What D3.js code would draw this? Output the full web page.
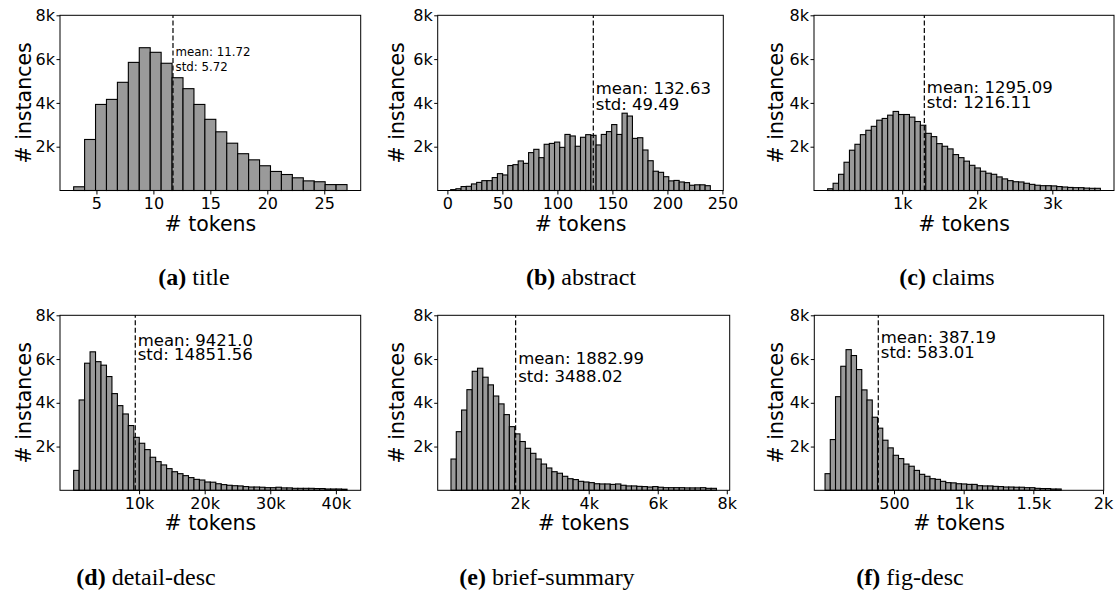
<!DOCTYPE html>
<html>
<head>
<meta charset="utf-8">
<script src="https://cdn.jsdelivr.net/npm/d3@7"></script>
<style>
  body { margin: 0; background: #fff; }
  svg { display: block; }
</style>
</head>
<body>
<svg id="chart" width="1117" height="597"></svg>
<script>
// Histogram counts per field; bins are spread evenly over each [min, max] range.
const titleCounts = [170, 2330, 3930, 4160, 4940, 5850, 6520, 6310, 5810, 5150, 4650, 3930, 3250, 2680, 2160, 1680, 1400, 1130, 870, 730, 580, 440, 400, 270, 270];
const titleRange = [3, 27];

const abstractCounts = [40, 80, 180, 190, 300, 370, 450, 450, 590, 770, 710, 1140, 1180, 1350, 1240, 1730, 1880, 1500, 2110, 2150, 2210, 1970, 2560, 2490, 2020, 2430, 2550, 2520, 2080, 2560, 2690, 3010, 2560, 3530, 3400, 2380, 2410, 1850, 1360, 880, 830, 630, 440, 460, 390, 360, 240, 260, 260, 220];
const abstractRange = [3, 239];

const claimsCounts = [80, 330, 740, 1290, 1840, 2110, 2550, 2750, 2930, 3210, 3290, 3440, 3610, 3470, 3470, 3350, 3150, 2980, 2610, 2460, 2140, 2020, 1900, 1640, 1500, 1340, 1150, 1030, 880, 790, 740, 620, 530, 450, 400, 390, 330, 280, 240, 220, 220, 210, 180, 160, 140, 130, 130, 110, 100, 100];
const claimsRange = [7, 3640];

const detailCounts = [910, 4130, 5810, 6330, 5880, 5720, 5200, 4420, 3870, 3490, 2960, 2420, 2150, 1860, 1510, 1310, 1160, 990, 850, 760, 670, 580, 500, 470, 380, 370, 300, 260, 230, 210, 200, 170, 150, 150, 140, 120, 120, 140, 110, 110, 90, 90, 90, 90, 80, 80, 60, 60, 60, 50];
const detailRange = [30, 41700];

const briefCounts = [1430, 2680, 3670, 4600, 5440, 5580, 5170, 4820, 4310, 3950, 3460, 2910, 2580, 2230, 1920, 1690, 1430, 1200, 1020, 850, 780, 640, 530, 490, 410, 380, 350, 300, 290, 290, 270, 290, 230, 200, 200, 180, 170, 150, 170, 140, 120, 120, 120, 120, 110, 110, 110, 120, 90, 90];
const briefRange = [10, 7700];

const figCounts = [760, 2320, 4280, 5670, 6430, 6160, 5520, 4590, 4130, 3340, 2840, 2290, 1940, 1600, 1450, 1200, 1100, 910, 730, 640, 530, 500, 410, 350, 340, 300, 290, 270, 270, 210, 200, 200, 180, 170, 150, 150, 140, 140, 120, 120, 90, 80, 80, 60, 60];
const figRange = [5, 1700];
const figXLimits = [-72, 2005];

// Axis ticks
const titleTicks = [5, 10, 15, 20, 25];
const titleTickLabels = ["5", "10", "15", "20", "25"];
const abstractTicks = [0, 50, 100, 150, 200, 250];
const abstractTickLabels = ["0", "50", "100", "150", "200", "250"];
const claimsTicks = [1000, 2000, 3000];
const claimsTickLabels = ["1k", "2k", "3k"];
const detailTicks = [10000, 20000, 30000, 40000];
const detailTickLabels = ["10k", "20k", "30k", "40k"];
const briefTicks = [2000, 4000, 6000, 8000];
const briefTickLabels = ["2k", "4k", "6k", "8k"];
const figTicks = [500, 1000, 1500, 2000];
const figTickLabels = ["500", "1k", "1.5k", "2k"];

const countTicks = [2000, 4000, 6000, 8000];
const countTickLabels = ["2k", "4k", "6k", "8k"];
const countMax = 8000;

// Summary statistics printed beside the mean line
const meanTexts = ["11.72", "132.63", "1295.09", "9421.0", "1882.99", "387.19"];
const stdTexts = ["5.72", "49.49", "1216.11", "14851.56", "3488.02", "583.01"];

const captionTags = ["(a)", "(b)", "(c)", "(d)", "(e)", "(f)"];
const captionNames = ["title", "abstract", "claims", "detail-desc", "brief-summary", "fig-desc"];

const xLabel = "# tokens";
const yLabel = "# instances";

// Panel frames and text placement
const panels = [
  { counts: titleCounts, range: titleRange, xlim: null, ticks: titleTicks, tickLabels: titleTickLabels,
    box: [60, 15.3, 360.7, 190.5], yLabX: 31, xLabY: 231, ann: { at: 6150, gap: 14.8, size: 11.8 }, cap: [194, 285] },
  { counts: abstractCounts, range: abstractRange, xlim: null, ticks: abstractTicks, tickLabels: abstractTickLabels,
    box: [437.7, 15.3, 723.3, 190.5], yLabX: 404, xLabY: 231, ann: { at: 4410, gap: 16, size: 16.5 }, cap: [581, 285] },
  { counts: claimsCounts, range: claimsRange, xlim: null, ticks: claimsTicks, tickLabels: claimsTickLabels,
    box: [814, 15.3, 1114, 190.5], yLabX: 783, xLabY: 231, ann: { at: 4470, gap: 15.6, size: 16.5 }, cap: [947, 285] },
  { counts: detailCounts, range: detailRange, xlim: null, ticks: detailTicks, tickLabels: detailTickLabels,
    box: [60, 315.3, 360.7, 490.3], yLabX: 31, xLabY: 530, ann: { at: 6600, gap: 14.2, size: 16.5 }, cap: [146, 585] },
  { counts: briefCounts, range: briefRange, xlim: null, ticks: briefTicks, tickLabels: briefTickLabels,
    box: [437.7, 315.3, 729.7, 490.3], yLabX: 404, xLabY: 530, ann: { at: 5790, gap: 18.3, size: 16.5 }, cap: [547, 585] },
  { counts: figCounts, range: figRange, xlim: figXLimits, ticks: figTicks, tickLabels: figTickLabels,
    box: [814.3, 315.3, 1103.7, 490.3], yLabX: 783, xLabY: 530, ann: { at: 6720, gap: 14.4, size: 16.5 }, cap: [910, 585] }
];

const svg = d3.select("#chart");
const FONT = "DejaVu Sans, Noto Sans, sans-serif";

panels.forEach((p, idx) => {
  const [x0, y0, x1, y1] = p.box;
  const [lo, hi] = p.range;
  const pad = (hi - lo) * 0.05;
  const domain = p.xlim || [lo - pad, hi + pad];
  const x = d3.scaleLinear().domain(domain).range([x0, x1]);
  const y = d3.scaleLinear().domain([0, countMax]).range([y1, y0]);
  const binW = (hi - lo) / p.counts.length;

  const g = svg.append("g").attr("class", "panel-" + idx);

  // bars
  g.append("g").selectAll("rect")
    .data(p.counts)
    .join("rect")
    .attr("x", (d, i) => x(lo + i * binW))
    .attr("width", (d, i) => x(lo + (i + 1) * binW) - x(lo + i * binW))
    .attr("y", d => y(d))
    .attr("height", d => y(0) - y(d))
    .attr("fill", "#9a9a9a")
    .attr("stroke", "#000")
    .attr("stroke-width", 1.1);

  // mean line
  const meanVal = +meanTexts[idx];
  g.append("line")
    .attr("x1", x(meanVal)).attr("x2", x(meanVal))
    .attr("y1", y1).attr("y2", y0)
    .attr("stroke", "#000")
    .attr("stroke-width", 1.2)
    .attr("stroke-dasharray", "5,2.5");

  // x axis
  const xa = g.append("g")
    .attr("transform", `translate(0,${y1})`)
    .call(d3.axisBottom(x).tickValues(p.ticks)
      .tickFormat((d, i) => p.tickLabels[i]).tickSize(4).tickPadding(3.5));
  // y axis
  const ya = g.append("g")
    .attr("transform", `translate(${x0},0)`)
    .call(d3.axisLeft(y).tickValues(countTicks)
      .tickFormat((d, i) => countTickLabels[i]).tickSize(3.5).tickPadding(1.5));
  [xa, ya].forEach(a => {
    a.select(".domain").remove();
    a.selectAll("line").attr("stroke", "#000").attr("stroke-width", 1);
    a.selectAll("text").attr("font-family", FONT).attr("font-size", 16).attr("fill", "#000");
  });

  // frame
  g.append("rect")
    .attr("x", x0).attr("y", y0)
    .attr("width", x1 - x0).attr("height", y1 - y0)
    .attr("fill", "none").attr("stroke", "#000").attr("stroke-width", 1);

  // mean / std annotation
  const tx = x(meanVal) + 2.5;
  const ty = y(p.ann.at);
  g.append("text").attr("x", tx).attr("y", ty)
    .attr("font-family", FONT).attr("font-size", p.ann.size)
    .text("mean: " + meanTexts[idx]);
  g.append("text").attr("x", tx).attr("y", ty + p.ann.gap)
    .attr("font-family", FONT).attr("font-size", p.ann.size)
    .text("std: " + stdTexts[idx]);

  // axis titles
  g.append("text")
    .attr("x", (x0 + x1) / 2).attr("y", p.xLabY)
    .attr("text-anchor", "middle")
    .attr("font-family", FONT).attr("font-size", 20.5)
    .text(xLabel);
  g.append("text")
    .attr("transform", `translate(${p.yLabX},${(y0 + y1) / 2}) rotate(-90)`)
    .attr("text-anchor", "middle")
    .attr("font-family", FONT).attr("font-size", 20.5)
    .text(yLabel);

  // caption
  const cap = g.append("text")
    .attr("x", p.cap[0]).attr("y", p.cap[1])
    .attr("text-anchor", "middle")
    .attr("font-family", "Liberation Serif, Times New Roman, serif")
    .attr("font-size", 24);
  cap.append("tspan").attr("font-weight", "bold").text(captionTags[idx]);
  cap.append("tspan").text(" " + captionNames[idx]);
});
</script>
</body>
</html>
